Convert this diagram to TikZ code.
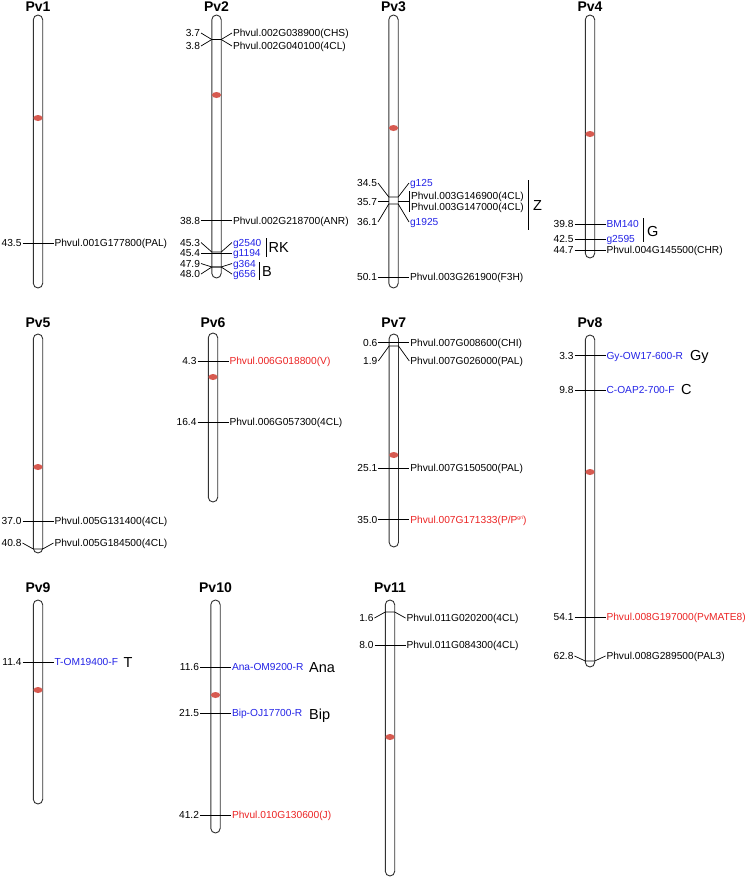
\documentclass[tikz,border=0pt]{standalone}
\usepackage{fontspec}
\setmainfont{Liberation Sans}
\definecolor{mblue}{RGB}{35,35,230}
\definecolor{mred}{RGB}{235,35,35}
\definecolor{cenred}{RGB}{215,90,80}
\definecolor{chrline}{RGB}{50,50,50}
\tikzset{
  chrom/.style={draw=chrline,line width=0.9pt,fill=white,rounded corners=4.7pt},
  tick/.style={draw=black,line width=0.7pt},
  numlab/.style={inner sep=0.8pt,anchor=east,font=\fontsize{10.2}{12}\selectfont,text height=7.3pt,text depth=0pt},
  genelab/.style={inner sep=0.8pt,anchor=west,font=\fontsize{10.2}{12}\selectfont,text height=7.3pt,text depth=0pt},
  chrtitle/.style={inner sep=0pt,font=\bfseries\fontsize{14}{16}\selectfont},
  grouplab/.style={inner sep=0pt,anchor=west,font=\fontsize{14.5}{16}\selectfont,text height=10.4pt,text depth=0pt},
  grpbar/.style={draw=black,line width=0.7pt}
}
% chromosome: name, x, top, bottom, centromere y, title y
\newcommand\chromo[6]{%
  \draw[chrom] ({#2-4.7},#3) rectangle ({#2+4.7},#4);
  \fill[cenred] (#2,#5) ellipse (4.6pt and 3pt);
  \node[chrtitle] (t#1) at (#2,#6) {Pv#1};
}
% straight marker: x, y, number, label, colour, id
\newcommand\mks[6]{%
  \node[numlab] (n#6) at ({#1-15.5},#2) {#3};
  \node[genelab,text=#5] (l#6) at ({#1+15.5},#2) {#4};
  \draw[tick] (n#6.east) -- (l#6.west);
}
% bent marker: x, y on chromosome, y of texts, number, label, colour, id
\newcommand\mkb[7]{%
  \node[numlab] (n#7) at ({#1-15.5},#3) {#4};
  \node[genelab,text=#6] (l#7) at ({#1+15.5},#3) {#5};
  \draw[tick] (n#7.east) -- ({#1-4.7},#2) -- ({#1+4.7},#2) -- (l#7.west);
}
\begin{document}
\begin{tikzpicture}[x=1pt,y=-1pt]
\useasboundingbox (0,0) rectangle (746,884);
% ---------- row 1 ----------
\chromo{1}{38}{15}{288}{118}{7}
\chromo{2}{216.5}{15}{278}{95}{7}
\chromo{3}{393.5}{15}{288}{128}{7}
\chromo{4}{590}{15}{258}{134}{7}
% Pv1
\mks{38}{243}{43.5}{Phvul.001G177800(PAL)}{black}{a1}
% Pv2
\mkb{216.5}{39.5}{33}{3.7}{Phvul.002G038900(CHS)}{black}{b1}
\mkb{216.5}{39.5}{46}{3.8}{Phvul.002G040100(4CL)}{black}{b2}
\mks{216.5}{220.5}{38.8}{Phvul.002G218700(ANR)}{black}{b3}
\mkb{216.5}{252}{242.5}{45.3}{g2540}{mblue}{b4}
\mks{216.5}{253}{45.4}{g1194}{mblue}{b5}
\mkb{216.5}{267}{263.5}{47.9}{g364}{mblue}{b6}
\mkb{216.5}{267}{274}{48.0}{g656}{mblue}{b7}
\coordinate (rkA) at (266,238);
\coordinate (rkB) at (266,257);
\draw[grpbar] (rkA) -- (rkB);
\node[grouplab] (gRK) at (268.5,247.5) {RK};
\coordinate (bA) at (259.5,262);
\coordinate (bB) at (259.5,280);
\draw[grpbar] (bA) -- (bB);
\node[grouplab] (gB) at (262,271.5) {B};
% Pv3
\mkb{393.5}{197}{183}{34.5}{g125}{mblue}{c1}
\mkb{393.5}{204}{222}{36.1}{g1925}{mblue}{c3}
\node[numlab] (nc2) at (378,201.5) {35.7};
\coordinate (c2bar) at (409.5,201.5);
\draw[tick] (nc2.east) -- (388.8,201.5);
\draw[tick] (398.2,201.5) -- (c2bar);
\coordinate (c2top) at (409.5,191);
\coordinate (c2bot) at (409.5,212);
\draw[tick] (c2top) -- (c2bot);
\node[genelab] (lc2a) at (410,196) {Phvul.003G146900(4CL)};
\node[genelab] (lc2b) at (410,207) {Phvul.003G147000(4CL)};
\coordinate (zA) at (528,180);
\coordinate (zB) at (528,230);
\draw[grpbar] (zA) -- (zB);
\node[grouplab] (gZ) at (533,205) {Z};
\mks{393.5}{277}{50.1}{Phvul.003G261900(F3H)}{black}{c4}
% Pv4
\mks{590}{224}{39.8}{BM140}{mblue}{d1}
\mks{590}{239}{42.5}{g2595}{mblue}{d2}
\mks{590}{250}{44.7}{Phvul.004G145500(CHR)}{black}{d3}
\coordinate (gA) at (643.5,218);
\coordinate (gB2) at (643.5,242);
\draw[grpbar] (gA) -- (gB2);
\node[grouplab] (gG) at (647,231.5) {G};
% ---------- row 2 ----------
\chromo{5}{38}{334}{553}{467}{323}
\chromo{6}{213}{333}{502}{377}{323}
\chromo{7}{393.8}{334}{547}{455}{323}
\chromo{8}{590}{335}{667}{472}{323}
% Pv5
\mks{38}{521}{37.0}{Phvul.005G131400(4CL)}{black}{e1}
\mkb{38}{549}{543}{40.8}{Phvul.005G184500(4CL)}{black}{e2}
% Pv6
\mks{213}{361}{4.3}{Phvul.006G018800(V)}{mred}{f1}
\mks{213}{422}{16.4}{Phvul.006G057300(4CL)}{black}{f2}
% Pv7
\mks{393.8}{342.5}{0.6}{Phvul.007G008600(CHI)}{black}{g1}
\mkb{393.8}{346}{361}{1.9}{Phvul.007G026000(PAL)}{black}{g2}
\mks{393.8}{468}{25.1}{Phvul.007G150500(PAL)}{black}{g3}
\mks{393.8}{519.5}{35.0}{Phvul.007G171333(P/P\raisebox{3.6pt}{\fontsize{5}{5}\selectfont gri})}{mred}{g4}
% Pv8
\mks{590}{355.5}{3.3}{Gy-OW17-600-R}{mblue}{h1}
\mks{590}{390}{9.8}{C-OAP2-700-F}{mblue}{h2}
\mks{590}{617}{54.1}{Phvul.008G197000(PvMATE8)}{mred}{h3}
\mkb{590}{661}{656}{62.8}{Phvul.008G289500(PAL3)}{black}{h4}
\node[grouplab] (gGy) at (690,355.5) {Gy};
\node[grouplab] (gC) at (681,389) {C};
% ---------- row 3 ----------
\chromo{9}{38}{600}{804}{690}{588}
\chromo{10}{215.5}{600}{833}{695}{588}
\chromo{11}{390}{600}{876}{737}{588}
% Pv9
\mks{38}{662}{11.4}{T-OM19400-F}{mblue}{i1}
\node[grouplab] (gT) at (123.5,662) {T};
% Pv10
\mks{215.5}{667}{11.6}{Ana-OM9200-R}{mblue}{j1}
\mks{215.5}{713}{21.5}{Bip-OJ17700-R}{mblue}{j2}
\mks{215.5}{815}{41.2}{Phvul.010G130600(J)}{mred}{j3}
\node[grouplab] (gAna) at (309,667) {Ana};
\node[grouplab] (gBip) at (309,714) {Bip};
% Pv11
\mkb{390}{612}{618}{1.6}{Phvul.011G020200(4CL)}{black}{k1}
\mks{390}{645}{8.0}{Phvul.011G084300(4CL)}{black}{k2}
\end{tikzpicture}
\end{document}
